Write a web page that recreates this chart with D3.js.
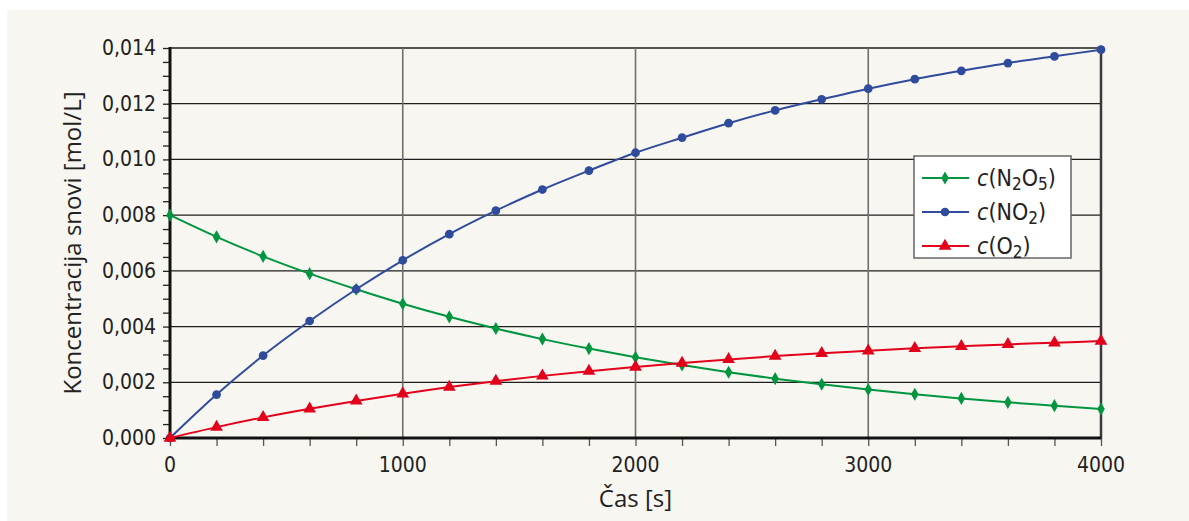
<!DOCTYPE html>
<html>
<head>
<meta charset="utf-8">
<script src="https://cdn.jsdelivr.net/npm/d3@7"></script>
<style>
  body { margin: 0; background: #fff; }
  svg { display: block; }
  .tick-label { font-family: "Liberation Sans Narrow", "DejaVu Sans Condensed", sans-serif; font-size: 21px; fill: #222; }
  .axis-title { font-family: "Open Sans", sans-serif; font-size: 24px; fill: #222; }
  .legend-text { font-family: "Liberation Sans Narrow", "DejaVu Sans Condensed", sans-serif; font-size: 23px; fill: #222; }
</style>
</head>
<body>
<svg id="chart" width="1189" height="521"></svg>
<script>
const times = [0,200,400,600,800,1000,1200,1400,1600,1800,2000,2200,2400,2600,2800,3000,3200,3400,3600,3800,4000];
const n2o5 = [0.00800,0.00722,0.00652,0.00590,0.00534,0.00482,0.00435,0.00393,0.00355,0.00321,0.00290,0.00262,0.00236,0.00213,0.00193,0.00174,0.00157,0.00142,0.00128,0.00116,0.00104];
const no2  = [0,0.00156,0.00296,0.00420,0.00534,0.00638,0.00732,0.00816,0.00892,0.00960,0.01024,0.01078,0.01130,0.01176,0.01216,0.01254,0.01288,0.01318,0.01346,0.01370,0.01394];
const o2   = [0,0.00039,0.00074,0.00105,0.00133,0.00159,0.00183,0.00204,0.00223,0.00240,0.00255,0.00269,0.00282,0.00294,0.00304,0.00313,0.00322,0.00329,0.00336,0.00342,0.00348];
const yTicks = [0,0.002,0.004,0.006,0.008,0.010,0.012,0.014];
const xTicks = [0,1000,2000,3000,4000];
const seriesNames = ["N2O5","NO2","O2"];

const colors = { N2O5: "#00953f", NO2: "#2f4b9c", O2: "#e3001b" };

const svg = d3.select('#chart');
svg.append('rect').attr('x',7).attr('y',10).attr('width',1182).attr('height',511).attr('fill','#f7f6f1');

const margin = { top: 48, left: 170, right: 88, bottom: 83 };
const width = 1189, height = 521;
const innerW = width - margin.left - margin.right;
const innerH = height - margin.top - margin.bottom;

const x = d3.scaleLinear().domain([0,4000]).range([0, innerW]);
const y = d3.scaleLinear().domain([0,0.014]).range([innerH, 0]);

const g = svg.append('g').attr('transform',`translate(${margin.left},${margin.top})`);

// grid
g.selectAll('.hgrid').data(yTicks.slice(1)).enter().append('line')
  .attr('x1',0).attr('x2',innerW)
  .attr('y1',d => y(d)).attr('y2',d => y(d))
  .attr('stroke','#1e1e1e').attr('stroke-width',1.3);
g.selectAll('.vgrid').data([1000,2000,3000]).enter().append('line')
  .attr('x1',d => x(d)).attr('x2',d => x(d))
  .attr('y1',0).attr('y2',innerH)
  .attr('stroke','#6e6e6e').attr('stroke-width',1.6);
// right border
g.append('line').attr('x1',x(4000)).attr('x2',x(4000)).attr('y1',0).attr('y2',innerH+1)
  .attr('stroke','#3a3a3a').attr('stroke-width',2.5);

// axes
const yAxis = d3.axisLeft(y).ticks(28).tickSize(7).tickFormat('');
const yAx = g.append('g').call(yAxis);
yAx.select('.domain').remove();
yAx.selectAll('line').attr('stroke','#222').attr('stroke-width',1.3);

const xAxis = d3.axisBottom(x).ticks(20).tickSize(8).tickFormat('');
const xAx = g.append('g').attr('transform',`translate(0,${innerH})`).call(xAxis);
xAx.select('.domain').remove();
xAx.selectAll('line').attr('stroke','#555').attr('stroke-width',1.3);

g.append('line').attr('x1',0).attr('x2',0).attr('y1',-1).attr('y2',innerH+1.5)
  .attr('stroke','#111').attr('stroke-width',3);
g.append('line').attr('x1',-1.5).attr('x2',innerW).attr('y1',innerH).attr('y2',innerH)
  .attr('stroke','#111').attr('stroke-width',3);

// tick labels
g.selectAll('.ylab').data(yTicks).enter().append('text')
  .attr('class','tick-label')
  .attr('x',-14).attr('y',d => y(d)+7)
  .attr('text-anchor','end')
  .text(d => d3.format('.3f')(d).replace('.',','));
g.selectAll('.xlab').data(xTicks).enter().append('text')
  .attr('class','tick-label')
  .attr('x',d => x(d)).attr('y',innerH+34)
  .attr('text-anchor','middle')
  .text(d => d);

// axis titles
g.append('text').attr('class','axis-title')
  .attr('x',innerW/2).attr('y',innerH+69)
  .attr('text-anchor','middle').text('Čas [s]');
g.append('text').attr('class','axis-title')
  .attr('transform',`translate(-89,${innerH/2}) rotate(-90)`)
  .attr('text-anchor','middle').text('Koncentracija snovi [mol/L]');

// series
const data = {
  N2O5: times.map((t,i) => ({t, v: n2o5[i]})),
  NO2: times.map((t,i) => ({t, v: no2[i]})),
  O2: times.map((t,i) => ({t, v: o2[i]}))
};
const symbols = { N2O5: d3.symbolDiamond, NO2: d3.symbolCircle, O2: d3.symbolTriangle };
const symSize = { N2O5: 50, NO2: 60, O2: 70 };

const line = d3.line().x(d => x(d.t)).y(d => y(d.v)).curve(d3.curveMonotoneX);

seriesNames.forEach(name => {
  g.append('path').datum(data[name])
    .attr('fill','none').attr('stroke',colors[name]).attr('stroke-width',2)
    .attr('d',line);
  g.selectAll('.pt-'+name).data(data[name]).enter().append('path')
    .attr('transform',d => `translate(${x(d.t)},${y(d.v)})`)
    .attr('d',d3.symbol().type(symbols[name]).size(symSize[name]))
    .attr('fill',colors[name]);
});

// legend
const leg = svg.append('g').attr('transform','translate(914,156)');
leg.append('rect').attr('width',157).attr('height',102)
  .attr('fill','#fff').attr('stroke','#666').attr('stroke-width',1.5);
const legLabels = {
  N2O5: [['N',''],['2','sub'],['O',''],['5','sub']],
  NO2: [['NO',''],['2','sub']],
  O2: [['O',''],['2','sub']]
};
seriesNames.forEach((name,i) => {
  const cy = 22 + i*34;
  leg.append('line').attr('x1',8).attr('x2',55).attr('y1',cy).attr('y2',cy)
    .attr('stroke',colors[name]).attr('stroke-width',2);
  leg.append('path').attr('transform',`translate(31,${cy})`)
    .attr('d',d3.symbol().type(symbols[name]).size(symSize[name]))
    .attr('fill',colors[name]);
  const t = leg.append('text').attr('class','legend-text').attr('x',63).attr('y',cy+8);
  t.append('tspan').attr('font-style','italic').text('c');
  t.append('tspan').text('(');
  legLabels[name].forEach(p => {
    const s = t.append('tspan').text(p[0]);
    if (p[1] === 'sub') s.attr('baseline-shift','-25%').attr('font-size','17px');
  });
  t.append('tspan').text(')');
});
</script>
</body>
</html>
